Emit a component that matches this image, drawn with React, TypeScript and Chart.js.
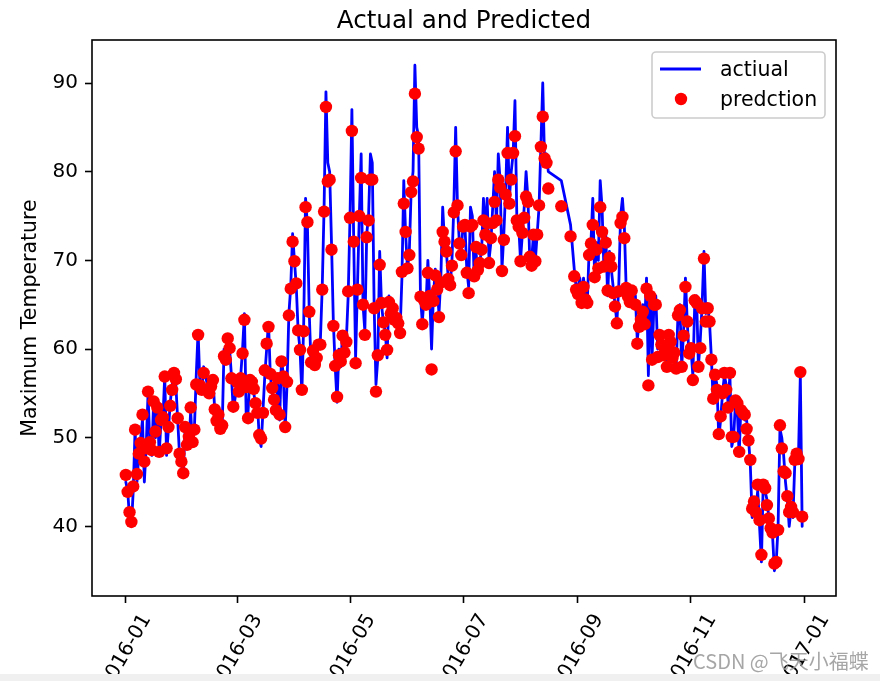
import React, { useEffect, useRef } from 'react';
import { Chart, registerables } from 'chart.js';

Chart.register(...registerables);

const YEAR = 2016;
const TITLE = 'Actual and Predicted';
const Y_LABEL = 'Maximum Temperature';
const LEGEND_LINE = 'actiual';
const LEGEND_DOTS = 'predction';
const WATERMARK = 'CSDN @飞天小福蝶';

const xTickLabels = ['2016-01', '2016-03', '2016-05', '2016-07', '2016-09', '2016-11', '2017-01'];
const yTicks = [40, 50, 60, 70, 80, 90];

// daily maximum temperature, one entry per day of the month (null = no record)
const janActual = [45, 44, 41, 40, 44, 51, 45, 48, 50, 52, 45, 49, 55, 49, 48, 54, 50, 54, 48, 52, 52, 57, 48, 51, 54, 56, 57, 56, 52, 48, 47];
const janPred = [45.8, 43.9, 41.6, 40.5, 44.5, 50.9, 45.9, 48.2, 49.4, 52.6, 47.3, 48.8, 55.2, 49.5, 48.6, 54.1, 50.7, 53.4, 48.4, 52.0, 52.3, 56.9, 48.8, 51.2, 53.6, 55.4, 57.3, 56.6, 52.2, 48.2, 47.3];

const febActual = [46, 51, 49, 49, 53, 49, 51, 57, 62, 56, 55, 58, null, null, 55, 56, 57, 53, 51, 53, 51, 51, 60, 59, 61, 60, 57, 53, null];
const febPred = [46.0, 51.2, 49.2, 50.1, 53.4, 49.5, 50.9, 56.0, 61.6, 55.9, 55.4, 57.3, null, null, 55.0, 55.8, 56.5, 53.2, 51.9, 52.6, 51.0, 51.4, 59.2, 58.8, 61.2, 60.1, 56.7, 53.5, null];

const marActual = [56, 55, 57, 60, 64, 52, 53, 57, 56, 55, 54, 54, 50, 49, 53, 57, 60, 63, 57, 55, 54, 53, 56, 52, 59, 57, 51, 56, 64, 67, 73];
const marPred = [56.3, 55.2, 56.7, 59.5, 63.3, 55.7, 52.2, 56.5, 56.3, 55.5, 53.9, 52.8, 50.3, 49.9, 52.8, 57.6, 60.6, 62.5, 57.2, 55.6, 54.3, 53.1, 56.7, 52.6, 58.6, 56.9, 51.2, 56.3, 63.8, 66.8, 72.1];

const aprActual = [70, 67, 62, 60, 55, 63, 77, 74, 64, 58, 60, 58, 59, 61, 61, 67, 76, 89, 81, 80, 72, 63, 58, 54, 60, 58, 62, 59, 61, 66];
const aprPred = [69.9, 67.4, 62.1, 59.9, 55.4, 62.0, 76.0, 74.3, 64.2, 58.5, 59.8, 58.2, 59.0, 60.5, 60.5, 66.7, 75.5, 87.3, 78.9, 79.1, 71.2, 62.6, 58.1, 54.6, 59.3, 58.6, 61.5, 59.6, 60.8, 66.5];

const mayActual = [75, 87, 72, 59, 67, 75, 82, 65, 62, 73, 75, 82, 81, 65, 56, 59, 71, 65, 63, 62, 59, 66, 64, 65, 63, 64, 63, 62, 68, 79, 73];
const mayPred = [74.8, 84.6, 72.1, 58.4, 66.7, 75.0, 79.3, 65.0, 61.6, 72.6, 74.5, 79.1, 79.1, 64.6, 55.2, 59.3, 69.5, 65.2, 63.0, 61.6, 59.9, 65.3, 64.0, 64.6, 63.3, 63.5, 62.9, 61.8, 68.7, 76.4, 73.2];

const junActual = [69, 71, 78, 80, 92, 85, 84, 66, 63, 66, 65, 70, 66, 60, 66, 69, 67, 64, 68, 76, 72, 71, 68, 67, 70, 76, 85, 76, 72, 71];
const junPred = [69.1, 70.6, 77.7, 78.9, 88.8, 83.9, 82.6, 65.9, 62.8, 65.5, 65.0, 68.6, 66.0, 57.7, 65.4, 68.3, 66.7, 63.6, 67.5, 73.2, 72.1, 71.0, 67.9, 67.2, 69.4, 75.4, 82.3, 76.2, 71.9, 70.6];

const julActual = [74, 74, 69, 67, 76, 75, 68, 71, 68, 70, 71, 77, 73, 77, 70, 72, 76, 80, 74, 82, 79, 69, 73, 78, 85, 77, 80, 82, 88, 75, 74];
const julPred = [73.8, 74.0, 68.6, 66.3, 73.8, 74.0, 68.2, 71.5, 68.9, 69.7, 71.2, 74.5, 72.9, 74.2, 69.7, 72.5, 74.2, 76.6, 74.5, 79.1, 78.2, 68.8, 72.3, 77.4, 82.1, 76.4, 79.1, 82.1, 84.0, 74.5, 73.8];

const augActual = [70, 73, 76, 80, 77, 70, 70, 73, 70, 73, 76, 83, 90, 81, 82, 80, null, null, null, null, null, null, 79, null, null, null, null, 74, null, 69, 67];
const augPred = [69.9, 73.1, 74.8, 77.2, 76.6, 70.4, 69.4, 72.9, 69.9, 72.9, 76.2, 82.8, 86.2, 81.5, 81.0, 78.1, null, null, null, null, null, null, 76.1, null, null, null, null, 72.7, null, 68.2, 66.7];

const sepActual = [67, 68, 66, 68, 66, 65, 71, 72, 77, 68, 72, 70, 79, 76, 69, 73, 66, 71, 69, 67, 65, 63, 67, 75, 77, 74, 67, 66, 65, 67];
const sepPred = [66.2, 66.7, 65.2, 67.0, 65.6, 65.2, 70.6, 71.9, 74.0, 68.1, 71.2, 69.1, 76.0, 73.2, 69.3, 72.0, 66.6, 70.3, 69.3, 66.3, 64.8, 62.9, 66.5, 74.2, 74.9, 72.5, 66.9, 65.9, 65.3, 66.6];

const octActual = [null, 66, 61, 63, 64, 65, 63, 68, 57, 67, 59, 65, 66, 60, 62, 61, 59, 60, 58, 62, 61, 59, 60, 58, 64, 65, 58, 62, 68, 63, 59];
const octPred = [null, 65.0, 60.6, 62.5, 63.3, 64.2, 62.8, 66.8, 55.9, 66.0, 58.8, 65.0, 65.0, 59.1, 61.6, 60.5, 59.3, 60.0, 58.0, 61.6, 60.8, 59.0, 59.6, 57.8, 63.8, 64.4, 58.0, 61.5, 67.0, 63.1, 59.5];

const novActual = [60, 57, 65, 66, 58, 61, 65, 71, 64, 65, 63, 59, 54, 57, 56, 50, 52, 55, 57, 56, 54, 57, 49, 50, 54, 53, 48, 54, 53, 52];
const novPred = [60.1, 56.5, 65.5, 65.2, 58.0, 60.1, 64.6, 70.2, 63.1, 64.6, 63.1, 58.8, 54.4, 57.1, 55.4, 50.4, 52.4, 55.0, 57.3, 55.4, 53.4, 57.3, 50.1, 50.1, 54.2, 53.9, 48.4, 53.1, 52.8, 52.6];

const decActual = [52, 50, 47, 41, 43, 42, 44, 40, 36, 45, 44, 43, 41, 40, 39, 35, 36, 40, 51, 50, 48, 45, 43, 40, 42, 41, 47, 48, 48, 57, 40];
const decPred = [51.0, 49.7, 47.5, 42.0, 42.8, 41.6, 44.7, 40.7, 36.8, 44.7, 44.3, 42.4, 40.9, 39.8, 39.3, 35.8, 36.0, 39.6, 51.4, 48.8, 46.2, 46.0, 43.4, 41.6, 42.2, 41.6, 47.5, 48.2, 47.6, 57.4, 41.1];

const actualByMonth = [janActual, febActual, marActual, aprActual, mayActual, junActual, julActual, augActual, sepActual, octActual, novActual, decActual];
const predByMonth = [janPred, febPred, marPred, aprPred, mayPred, junPred, julPred, augPred, sepPred, octPred, novPred, decPred];

const DAY_MS = 86400000;
const dayIndex = (y: number, m: number, d: number) => (Date.UTC(y, m - 1, d) - Date.UTC(YEAR, 0, 1)) / DAY_MS;

type Pt = { x: number; y: number };
function buildPoints(byMonth: (number | null)[][]): Pt[] {
  const pts: Pt[] = [];
  byMonth.forEach((arr, mi) => {
    arr.forEach((v, di) => {
      if (v !== null && v !== undefined) pts.push({ x: dayIndex(YEAR, mi + 1, di + 1), y: v });
    });
  });
  return pts;
}

const actualPts = buildPoints(actualByMonth);
const predPts = buildPoints(predByMonth);
const xTickValues = xTickLabels.map((s) => {
  const [y, m] = s.split('-').map(Number);
  return dayIndex(y, m, 1);
});

const FONT = '"DejaVu Sans", "Liberation Sans", sans-serif';
const TICK_PX = 20;
const LABEL_PX = 20.5;
const TITLE_PX = 24.6;

export default function App() {
  const ref = useRef<HTMLCanvasElement | null>(null);

  useEffect(() => {
    const canvas = ref.current;
    if (!canvas) return;
    document.body.style.margin = '0';

    const all = [...actualPts, ...predPts];
    const xs = all.map((p) => p.x);
    const ys = all.map((p) => p.y);
    const xMin0 = Math.min(...xs), xMax0 = Math.max(...xs);
    const yMin0 = Math.min(...ys), yMax0 = Math.max(...ys);
    const xm = (xMax0 - xMin0) * 0.05;
    const ym = (yMax0 - yMin0) * 0.05;

    const deco = {
      id: 'deco',
      afterDraw(chart: any) {
        const { ctx, chartArea: a, scales } = chart;
        ctx.save();
        // spines
        ctx.strokeStyle = '#000';
        ctx.lineWidth = 1.6;
        ctx.strokeRect(a.left, a.top, a.right - a.left, a.bottom - a.top);

        // title
        ctx.fillStyle = '#000';
        ctx.font = `${TITLE_PX}px ${FONT}`;
        ctx.textAlign = 'center';
        ctx.textBaseline = 'alphabetic';
        ctx.fillText(TITLE, (a.left + a.right) / 2, a.top - 12);

        // y label
        ctx.save();
        ctx.font = `${LABEL_PX}px ${FONT}`;
        ctx.translate(31, (a.top + a.bottom) / 2);
        ctx.rotate(-Math.PI / 2);
        ctx.textAlign = 'center';
        ctx.textBaseline = 'middle';
        ctx.fillText(Y_LABEL, 0, 0);
        ctx.restore();

        // rotated x tick labels (centered under tick like matplotlib rotation=60)
        ctx.font = `${TICK_PX}px ${FONT}`;
        const ang = Math.PI / 3;
        xTickLabels.forEach((lab, i) => {
          const px = scales.x.getPixelForValue(xTickValues[i]);
          const w = ctx.measureText(lab).width;
          const h = TICK_PX * 1.164;
          const bh = w * Math.sin(ang) + h * Math.cos(ang);
          ctx.save();
          ctx.translate(px, a.bottom + 14 + bh / 2);
          ctx.rotate(-ang);
          ctx.textAlign = 'center';
          ctx.textBaseline = 'middle';
          ctx.fillText(lab, 0, 0);
          ctx.restore();
        });

        // legend
        const lx = 652, ly = 52, lw = 173, lh = 66;
        ctx.beginPath();
        ctx.roundRect(lx, ly, lw, lh, 4);
        ctx.fillStyle = 'rgba(255,255,255,0.8)';
        ctx.fill();
        ctx.strokeStyle = '#cccccc';
        ctx.lineWidth = 1.6;
        ctx.stroke();
        ctx.strokeStyle = '#0000ff';
        ctx.lineWidth = 3;
        ctx.beginPath();
        ctx.moveTo(660, 69);
        ctx.lineTo(701, 69);
        ctx.stroke();
        ctx.fillStyle = '#ff0000';
        ctx.beginPath();
        ctx.arc(681, 99, 6.2, 0, Math.PI * 2);
        ctx.fill();
        ctx.fillStyle = '#000';
        ctx.font = `${LABEL_PX}px ${FONT}`;
        ctx.textAlign = 'left';
        ctx.textBaseline = 'alphabetic';
        ctx.fillText(LEGEND_LINE, 720, 76);
        ctx.fillText(LEGEND_DOTS, 720, 106);
        ctx.restore();
      },
    };

    const chart = new Chart(canvas, {
      type: 'line',
      data: {
        datasets: [
          {
            label: LEGEND_DOTS,
            data: predPts,
            showLine: false,
            pointRadius: 6.2,
            pointBorderWidth: 0,
            pointBackgroundColor: '#ff0000',
            pointBorderColor: '#ff0000',
            order: 0,
          },
          {
            label: LEGEND_LINE,
            data: actualPts,
            borderColor: '#0000ff',
            borderWidth: 2.8,
            borderJoinStyle: 'round',
            borderCapStyle: 'round',
            pointRadius: 0,
            tension: 0,
            fill: false,
            spanGaps: true,
            order: 1,
          },
        ],
      },
      options: {
        animation: false,
        responsive: false,
        devicePixelRatio: 1,
        events: [],
        layout: { padding: { left: 0, top: 40, right: 44, bottom: 0 } },
        plugins: { legend: { display: false }, title: { display: false }, tooltip: { enabled: false } },
        scales: {
          x: {
            type: 'linear',
            min: xMin0 - xm,
            max: xMax0 + xm,
            afterBuildTicks: (s: any) => {
              s.ticks = xTickValues.map((v) => ({ value: v }));
            },
            afterFit: (s: any) => {
              s.height = 85;
            },
            ticks: { display: false },
            border: { display: false },
            grid: { display: true, drawOnChartArea: false, drawTicks: true, tickLength: 7, tickWidth: 1.6, tickColor: '#000' },
          },
          y: {
            type: 'linear',
            min: yMin0 - ym,
            max: yMax0 + ym,
            afterBuildTicks: (s: any) => {
              s.ticks = yTicks.map((v) => ({ value: v }));
            },
            afterFit: (s: any) => {
              s.width = 92;
            },
            ticks: { color: '#000', font: { family: FONT, size: TICK_PX }, padding: 7 },
            border: { display: false },
            grid: { display: true, drawOnChartArea: false, drawTicks: true, tickLength: 7, tickWidth: 1.6, tickColor: '#000' },
          },
        },
      },
      plugins: [deco],
    });
    return () => chart.destroy();
  }, []);

  return (
    <div style={{ position: 'absolute', left: 0, top: 0, width: 880, height: 681, background: '#fff', overflow: 'hidden' }}>
      <canvas ref={ref} width={880} height={681} style={{ display: 'block' }} />
      <div style={{ position: 'absolute', left: 0, top: 674, width: 880, height: 7, background: '#f0f0f0' }} />
      <div
        style={{
          position: 'absolute',
          left: 693,
          top: 648,
          fontFamily: '"Noto Sans CJK SC", sans-serif',
          fontSize: 20,
          lineHeight: '26px',
          color: 'rgba(150,150,150,0.85)',
          whiteSpace: 'nowrap',
        }}
      >
        {WATERMARK}
      </div>
    </div>
  );
}
